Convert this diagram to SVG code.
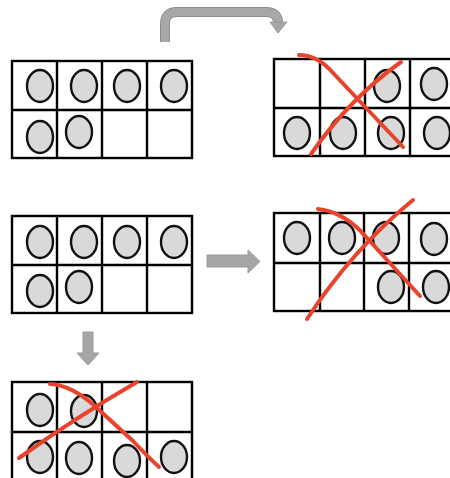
<svg xmlns="http://www.w3.org/2000/svg" width="450" height="478" viewBox="0 0 450 478">
<style>
.grid{fill:#fff;stroke:#000;stroke-width:2.4}
.ln{stroke:#000;stroke-width:2.4;fill:none}
.dot{fill:#d9d9d9;stroke:#111;stroke-width:2.4}
.cross{fill:none;stroke:#e8432c;stroke-width:4;stroke-linecap:round;stroke-linejoin:round}
.arr{fill:#a6a6a6;stroke:#9a9a9a;stroke-width:1}
</style>
<rect width="450" height="478" fill="#fff"/>
<g id="connectors">
<path d="M165,42 V24 Q165,12 177,12 H266 Q278,12 278,23" fill="none" stroke="#8c8c8c" stroke-width="10"/>
<path d="M165,42 V24 Q165,12 177,12 H266 Q278,12 278,23" fill="none" stroke="#a8a8a8" stroke-width="8"/>
<polygon class="arr" points="270,22 287,22 278,33"/>
<polygon class="arr" points="207,255 248,255 248,250 260,261.5 248,273 248,267 207,267"/>
<polygon class="arr" points="83,332 93,332 93,353 99,353 88,365 77,353 83,353"/>
</g>
<g id="frame-top-left">
<rect class="grid" x="12" y="61" width="180" height="97"/>
<path class="ln" d="M12,110 H192 M57,61 V158 M102,61 V158 M147,61 V158"/>
<ellipse class="dot" cx="40" cy="86" rx="13" ry="16"/>
<ellipse class="dot" cx="84" cy="86" rx="13" ry="16"/>
<ellipse class="dot" cx="127" cy="86" rx="13" ry="16"/>
<ellipse class="dot" cx="174" cy="86" rx="13" ry="16"/>
<ellipse class="dot" cx="40" cy="137" rx="13" ry="16"/>
<ellipse class="dot" cx="79" cy="132" rx="13" ry="16"/>
</g>
<g id="frame-top-right">
<rect class="grid" x="274" y="59" width="181" height="97"/>
<path class="ln" d="M274,108 H455 M320,59 V156 M365,59 V156 M410,59 V156"/>
<ellipse class="dot" cx="387" cy="86" rx="13" ry="16"/>
<ellipse class="dot" cx="434" cy="84" rx="13" ry="16"/>
<ellipse class="dot" cx="297" cy="133" rx="13" ry="16"/>
<ellipse class="dot" cx="343" cy="133" rx="13" ry="16"/>
<ellipse class="dot" cx="391" cy="133" rx="13" ry="16"/>
<ellipse class="dot" cx="437" cy="133" rx="13" ry="16"/>
<path class="cross" d="M299,55 Q318,55 334,74 L403,147"/>
<path class="cross" d="M311,154 Q350,98 401,62"/>
</g>
<g id="frame-mid-left">
<rect class="grid" x="12" y="216" width="180" height="97"/>
<path class="ln" d="M12,265 H192 M57,216 V313 M102,216 V313 M147,216 V313"/>
<ellipse class="dot" cx="40" cy="242" rx="13" ry="16"/>
<ellipse class="dot" cx="84" cy="242" rx="13" ry="16"/>
<ellipse class="dot" cx="127" cy="242" rx="13" ry="16"/>
<ellipse class="dot" cx="174" cy="242" rx="13" ry="16"/>
<ellipse class="dot" cx="40" cy="291" rx="13" ry="16"/>
<ellipse class="dot" cx="79" cy="287" rx="13" ry="16"/>
</g>
<g id="frame-mid-right">
<rect class="grid" x="274" y="213" width="181" height="98"/>
<path class="ln" d="M274,263 H455 M320,213 V311 M364,213 V311 M409,213 V311"/>
<ellipse class="dot" cx="297" cy="238" rx="13" ry="16"/>
<ellipse class="dot" cx="342" cy="238" rx="13" ry="16"/>
<ellipse class="dot" cx="386" cy="238" rx="13" ry="16"/>
<ellipse class="dot" cx="434" cy="239" rx="13" ry="16"/>
<ellipse class="dot" cx="391" cy="287" rx="13" ry="16"/>
<ellipse class="dot" cx="436" cy="287" rx="13" ry="16"/>
<path class="cross" d="M318,209 Q345,212 367,238 L420,296"/>
<path class="cross" d="M307,319 Q352,250 413,200"/>
</g>
<g id="frame-bottom-left">
<rect class="grid" x="12" y="382" width="180" height="100"/>
<path class="ln" d="M12,432 H192 M57,382 V482 M102,382 V482 M147,382 V482"/>
<ellipse class="dot" cx="40" cy="410" rx="13" ry="16"/>
<ellipse class="dot" cx="84" cy="411" rx="13" ry="16"/>
<ellipse class="dot" cx="40" cy="457" rx="13" ry="16"/>
<ellipse class="dot" cx="79" cy="458" rx="13" ry="16"/>
<ellipse class="dot" cx="127" cy="461" rx="13" ry="16"/>
<ellipse class="dot" cx="174" cy="457" rx="13" ry="16"/>
<path class="cross" d="M50,384 Q72,385 97,408 L133,441 Q148,457 159,467"/>
<path class="cross" d="M19,458 Q75,418 137,382"/>
</g>
</svg>
